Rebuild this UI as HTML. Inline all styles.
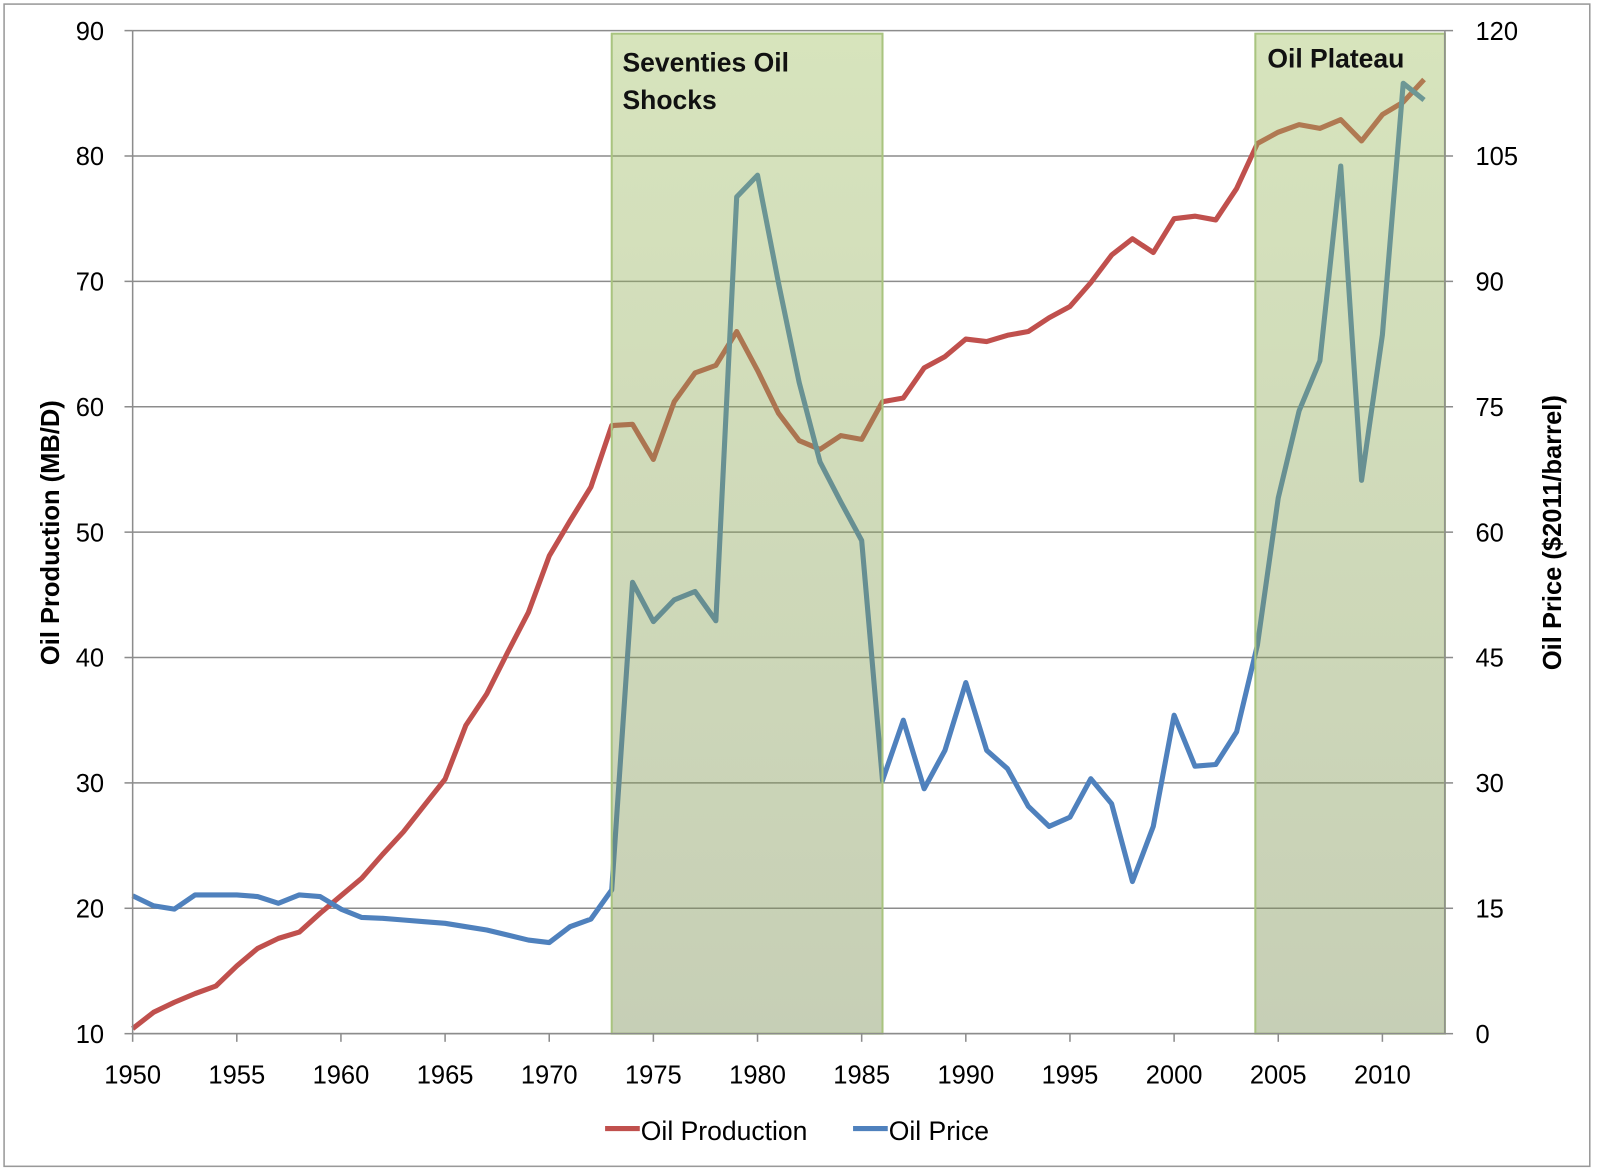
<!DOCTYPE html>
<html><head><meta charset="utf-8">
<style>
html,body{margin:0;padding:0;background:#fff;}
svg{display:block;font-family:"Liberation Sans",sans-serif;}
</style></head>
<body>
<svg id="chart" width="1600" height="1175" xmlns="http://www.w3.org/2000/svg">
<g transform="scale(1.0204)">
<rect x="4" y="4" width="1554" height="1139" fill="#fff" stroke="#999" stroke-width="1.5"/>
<g id="grid"></g>
<g id="series"></g>
<g id="shades"></g>
<g id="axes"></g>
<text x="610" y="70" font-size="26" font-weight="bold" fill="#111">Seventies Oil</text>
<text x="610" y="107" font-size="26" font-weight="bold" fill="#111">Shocks</text>
<text x="1242" y="66" font-size="26" font-weight="bold" fill="#111">Oil Plateau</text>
<text transform="translate(58,522) rotate(-90)" text-anchor="middle" font-size="25" font-weight="bold" fill="#000">Oil Production (MB/D)</text>
<text transform="translate(1530,522) rotate(-90)" text-anchor="middle" font-size="25" font-weight="bold" fill="#000">Oil Price ($2011/barrel)</text>
<g>
<line x1="593" y1="1106" x2="627" y2="1106" stroke="#c0504d" stroke-width="5"/>
<text x="628" y="1117" font-size="26" fill="#000">Oil Production</text>
<line x1="836" y1="1106" x2="870" y2="1106" stroke="#4f81bd" stroke-width="5"/>
<text x="871" y="1117" font-size="26" fill="#000">Oil Price</text>
</g>
</g>
</svg>
<script>
const years=[];for(let y=1950;y<=2012;y++)years.push(y);
const production=[10.4,11.7,12.5,13.2,13.8,15.4,16.8,17.6,18.1,19.6,21.0,22.4,24.3,26.1,28.2,30.3,34.6,37.1,40.4,43.6,48.1,50.9,53.6,58.5,58.6,55.8,60.4,62.7,63.3,66.0,62.9,59.5,57.3,56.6,57.7,57.4,60.4,60.7,63.1,64.0,65.4,65.2,65.7,66.0,67.1,68.0,69.9,72.1,73.4,72.3,75.0,75.2,74.9,77.4,81.0,81.9,82.5,82.2,82.9,81.2,83.3,84.3,86.1];
const price=[16.5,15.3,14.9,16.6,16.6,16.6,16.4,15.6,16.6,16.4,14.9,13.9,13.8,13.6,13.4,13.2,12.8,12.4,11.8,11.2,10.9,12.8,13.7,17.2,54.0,49.3,51.9,52.9,49.4,100.1,102.7,89.9,77.9,68.4,63.6,59.0,30.3,37.5,29.3,33.9,42.0,33.9,31.7,27.2,24.8,25.9,30.5,27.5,18.2,24.8,38.1,32.0,32.2,36.1,46.5,64.1,74.5,80.5,103.8,66.2,83.6,113.7,111.7];
const leftTicks=[10,20,30,40,50,60,70,80,90];
const rightTicks=[0,15,30,45,60,75,90,105,120];
const xTicks=[1950,1955,1960,1965,1970,1975,1980,1985,1990,1995,2000,2005,2010];
const periods=[[1973,1986],[2003.9,2013]];

const L=130,R=1416,T=30,B=1013;
const x=v=>L+(v-1950)/(2013-1950)*(R-L);
const yl=v=>B-(v-10)/80*(B-T);
const yr=v=>B-v/120*(B-T);
const NS="http://www.w3.org/2000/svg";
function mk(tag,attrs,parent){const e=document.createElementNS(NS,tag);for(const k in attrs)e.setAttribute(k,attrs[k]);parent.appendChild(e);return e;}
const grid=document.getElementById('grid'),axes=document.getElementById('axes'),series=document.getElementById('series'),shades=document.getElementById('shades');

leftTicks.forEach((t,i)=>{
  const gl=mk('line',{x1:L,x2:R,y1:yl(t),y2:yl(t),stroke:'#8c8c8c','stroke-width':1.5},grid);
  
  
  const tl=mk('line',{x1:L-8,x2:L,y1:yl(t),y2:yl(t),stroke:'#8c8c8c','stroke-width':1.5},axes);
  
  
  const lt=mk('text',{x:L-28,y:yl(t)+9,'text-anchor':'end','font-size':25,fill:'#000'},axes);
  lt.textContent=t;
  
  
});
rightTicks.forEach(t=>{
  const tl=mk('line',{x1:R,x2:R+8,y1:yr(t),y2:yr(t),stroke:'#8c8c8c','stroke-width':1.5},axes);
  
  
  const rt=mk('text',{x:R+30,y:yr(t)+9,'text-anchor':'start','font-size':25,fill:'#000'},axes);
  rt.textContent=t;
  
  
});
xTicks.forEach(t=>{
  const tl=mk('line',{x1:x(t),x2:x(t),y1:B,y2:B+8,stroke:'#8c8c8c','stroke-width':1.5},axes);
  
  
  const xt=mk('text',{x:x(t),y:B+49,'text-anchor':'middle','font-size':25,fill:'#000'},axes);
  xt.textContent=t;
  
  
});
[['M',L,T,L,B],['M',R,T,R,B],['M',L,B,R,B]].forEach(a=>{
  const ax=mk('line',{x1:a[1],y1:a[2],x2:a[3],y2:a[4],stroke:'#8c8c8c','stroke-width':1.5},axes);
  
  
});

const pp=mk('polyline',{points:years.map((y,i)=>x(y)+','+yl(production[i])).join(' '),fill:'none',stroke:'#c0504d','stroke-width':5,'stroke-linejoin':'round'},series);


const pr=mk('polyline',{points:years.map((y,i)=>x(y)+','+yr(price[i])).join(' '),fill:'none',stroke:'#4f81bd','stroke-width':5,'stroke-linejoin':'round'},series);



const defs=mk('defs',{},shades);
const g=mk('linearGradient',{id:'sg',x1:0,y1:0,x2:0,y2:1},defs);
mk('stop',{offset:'0','stop-color':'rgb(155,187,89)','stop-opacity':0.4},g);
mk('stop',{offset:'1','stop-color':'rgb(120,140,80)','stop-opacity':0.42},g);
periods.forEach(p=>{
  const r=mk('rect',{x:x(p[0]),y:33,width:x(p[1])-x(p[0]),height:B-33,fill:'url(#sg)',stroke:'#a9c47f','stroke-width':2},shades);
  
  
});
</script>
</body></html>
